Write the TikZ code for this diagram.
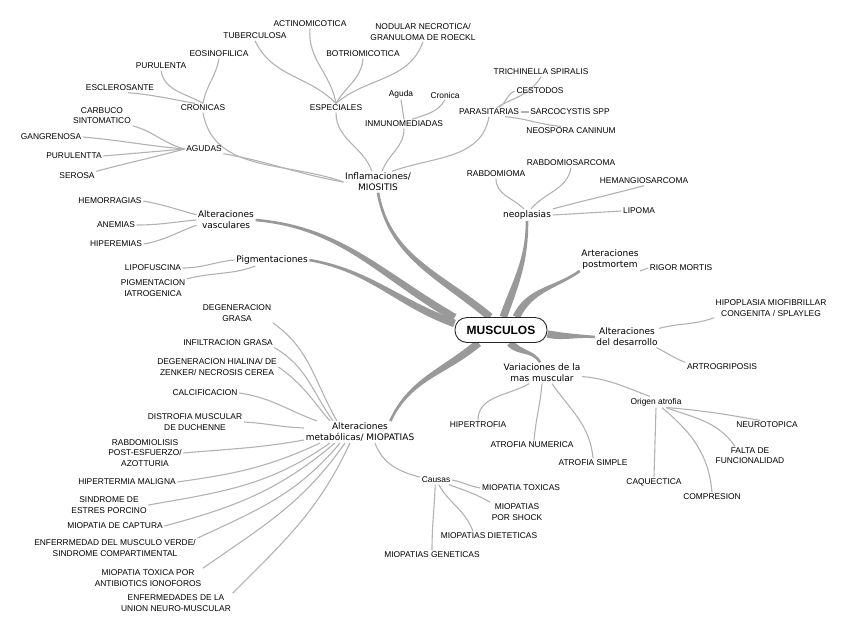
\documentclass[tikz,border=0pt]{standalone}
\usepackage{fontspec}
\setmainfont{Liberation Sans}
\newfontfamily\topicfamily{DejaVu Sans}
\newcommand\leaffont{\fontsize{8.4}{10.2}\selectfont}
\newcommand\topicfont{\topicfamily\fontsize{9}{11}\selectfont}
\usetikzlibrary{backgrounds}
% tapered branch: #1 start, #2 out angle, #3 end, #4 in angle
\newcommand\limb[4]{\fill[limbfill] ([shift={(#2+90:1.3)}]#1) to[out=#2,in=#4] ([shift={(#4-90:3.8)}]#3)
    -- ([shift={(#4+90:3.8)}]#3) to[out=#4,in=#2] ([shift={(#2-90:1.3)}]#1) -- cycle;}
\begin{document}
\begin{tikzpicture}[x=1pt,y=1pt,font=\leaffont,
    leaf/.style={align=center,inner sep=1.5pt},
    topic/.style={align=center,inner sep=1.5pt,font=\topicfont},
    root/.style={draw=black!85,line width=.9pt,rounded corners=12pt,fill=white,minimum width=92pt,minimum height=25pt,font=\bfseries\fontsize{12}{14}\selectfont},
    twig/.style={draw=black!30,line width=1.1pt},
    limbfill/.style={fill=black!40}]
    \useasboundingbox (0,0) rectangle (848,-633);
    \node[root] (root) at (501,-330) {MUSCULOS};
    \node[topic] (inf) at (378,-182) {Inflamaciones/\\MIOSITIS};
    \node[topic] (neo) at (527,-215) {neoplasias};
    \node[topic] (post) at (610,-260) {Arteraciones\\postmortem};
    \node[topic] (des) at (627,-337) {Alteraciones\\del desarrollo};
    \node[topic] (var) at (542,-373) {Variaciones de la\\mas muscular};
    \node[topic] (met) at (360,-432) {Alteraciones\\metabólicas/ MIOPATIAS};
    \node[topic] (pig) at (272,-260) {Pigmentaciones};
    \node[topic] (vas) at (226,-220) {Alteraciones\\vasculares};
    % inflamaciones
    \node[leaf] (cron) at (203,-108) {CRONICAS};
    \node[leaf] (pur) at (161,-66) {PURULENTA};
    \node[leaf] (eos) at (219,-54) {EOSINOFILICA};
    \node[leaf] (esc) at (120,-88) {ESCLEROSANTE};
    \node[leaf] (agu) at (204,-149) {AGUDAS};
    \node[leaf] (carb) at (102,-116) {CARBUCO\\SINTOMATICO};
    \node[leaf] (gan) at (51,-137) {GANGRENOSA};
    \node[leaf] (pur2) at (74,-156) {PURULENTTA};
    \node[leaf] (ser) at (77,-176) {SEROSA};
    \node[leaf] (esp) at (336,-108) {ESPECIALES};
    \node[leaf] (tub) at (255,-36) {TUBERCULOSA};
    \node[leaf] (act) at (310,-24) {ACTINOMICOTICA};
    \node[leaf] (bot) at (363,-54) {BOTRIOMICOTICA};
    \node[leaf] (nod) at (423,-32) {NODULAR NECROTICA/\\GRANULOMA DE ROECKL};
    \node[leaf] (inm) at (404,-124) {INMUNOMEDIADAS};
    \node[leaf] (agd) at (401,-94) {Aguda};
    \node[leaf] (crn) at (445,-95) {Cronica};
    \node[leaf] (par) at (489,-112) {PARASITARIAS};
    \node[leaf] (tri) at (541,-72) {TRICHINELLA SPIRALIS};
    \node[leaf] (ces) at (540,-91) {CESTODOS};
    \node[leaf] (sar) at (570,-112) {SARCOCYSTIS SPP};
    \node[leaf] (neos) at (571,-131) {NEOSPORA CANINUM};
    % neoplasias, postmortem, desarrollo
    \node[leaf] (rbm) at (496,-174) {RABDOMIOMA};
    \node[leaf] (rbs) at (571,-163) {RABDOMIOSARCOMA};
    \node[leaf] (hem) at (644,-181) {HEMANGIOSARCOMA};
    \node[leaf] (lip) at (639,-211) {LIPOMA};
    \node[leaf] (rig) at (681,-268) {RIGOR MORTIS};
    \node[leaf] (hip) at (771,-308) {HIPOPLASIA MIOFIBRILLAR\\CONGENITA / SPLAYLEG};
    \node[leaf] (art) at (722,-367) {ARTROGRIPOSIS};
    % variaciones
    \node[leaf] (hipt) at (478,-425) {HIPERTROFIA};
    \node[leaf] (atn) at (532,-445) {ATROFIA NUMERICA};
    \node[leaf] (ats) at (593,-463) {ATROFIA SIMPLE};
    \node[leaf] (ori) at (656,-402) {Origen atrofia};
    \node[leaf] (neu) at (767,-425) {NEUROTOPICA};
    \node[leaf] (fal) at (750,-456) {FALTA DE\\FUNCIONALIDAD};
    \node[leaf] (com) at (712,-497) {COMPRESION};
    \node[leaf] (caq) at (654,-482) {CAQUECTICA};
    % vasculares, pigmentaciones
    \node[leaf] (hmr) at (110,-201) {HEMORRAGIAS};
    \node[leaf] (ane) at (116,-225) {ANEMIAS};
    \node[leaf] (hpe) at (116,-244) {HIPEREMIAS};
    \node[leaf] (lipf) at (153,-268) {LIPOFUSCINA};
    \node[leaf] (pigi) at (153,-288) {PIGMENTACION\\IATROGENICA};
    % metabolicas
    \node[leaf] (dgr) at (237,-313) {DEGENERACION\\GRASA};
    \node[leaf] (ifg) at (228,-343) {INFILTRACION GRASA};
    \node[leaf] (hia) at (217,-367) {DEGENERACION HIALINA/ DE\\ZENKER/ NECROSIS CEREA};
    \node[leaf] (cal) at (205,-393) {CALCIFICACION};
    \node[leaf] (duc) at (195,-422) {DISTROFIA MUSCULAR\\DE DUCHENNE};
    \node[leaf] (rab) at (145,-453) {RABDOMIOLISIS\\POST-ESFUERZO/\\AZOTTURIA};
    \node[leaf] (hmg) at (127,-482) {HIPERTERMIA MALIGNA};
    \node[leaf] (sin) at (109,-505) {SINDROME DE\\ESTRES PORCINO};
    \node[leaf] (cap) at (115,-526) {MIOPATIA DE CAPTURA};
    \node[leaf] (ver) at (115,-548) {ENFERRMEDAD DEL MUSCULO VERDE/\\SINDROME COMPARTIMENTAL};
    \node[leaf] (tox) at (148,-578) {MIOPATIA TOXICA POR\\ANTIBIOTICS IONOFOROS};
    \node[leaf] (uni) at (176,-603) {ENFERMEDADES DE LA\\UNION NEURO-MUSCULAR};
    \node[leaf] (cau) at (436,-480) {Causas};
    \node[leaf] (mtx) at (521,-488) {MIOPATIA TOXICAS};
    \node[leaf] (shk) at (517,-512) {MIOPATIAS\\POR SHOCK};
    \node[leaf] (diet) at (489,-536) {MIOPATIAS DIETETICAS};
    \node[leaf] (gen) at (432,-555) {MIOPATIAS GENETICAS};
    \begin{pgfonlayer}{background}
        \limb{inf.south}{-80}{root.130}{140}
        \limb{neo.south}{-90}{root.80}{70}
        \limb{post.200}{-145}{root.40}{65}
        \limb{des.west}{175}{root.-5}{-10}
        \limb{var.100}{120}{root.-55}{-50}
        \limb{met.20}{65}{root.-150}{-140}
        \limb{pig.east}{-10}{root.172}{160}
        \limb{vas.east}{-5}{root.165}{150}
        \draw[twig] (cron.south) to[out=-80,in=160] (inf.west);
        \draw[twig] (agu.south east) to[out=-10,in=170] (inf.west);
        \draw[twig] (esp.south) to[out=-90,in=110] ([xshift=-6pt]inf.north);
        \draw[twig] (inm.south) to[out=-90,in=70] ([xshift=4pt]inf.north);
        \draw[twig] (par.south) to[out=-100,in=20] ([xshift=14pt]inf.north);
        \draw[twig] (pur.south) to[out=-80,in=150] (cron.north);
        \draw[twig] (eos.south) to[out=-100,in=80] (cron.north);
        \draw[twig] ([xshift=8pt]esc.south) to[out=-5,in=170] (cron.150);
        \draw[twig] (carb.south east) to[out=-15,in=165] (agu.west);
        \draw[twig] (gan.east) to[out=-5,in=175] (agu.west);
        \draw[twig] (pur2.east) to[out=5,in=-175] (agu.west);
        \draw[twig] (ser.north east) to[out=15,in=-165] (agu.west);
        \draw[twig] (tub.south) to[out=-65,in=135] (esp.north);
        \draw[twig] (act.south) to[out=-95,in=100] (esp.north);
        \draw[twig] (bot.south) to[out=-95,in=60] (esp.north);
        \draw[twig] (nod.south) to[out=-110,in=40] (esp.north);
        \draw[twig] (agd.south) -- (inm.north);
        \draw[twig] (crn.south) to[out=-120,in=20] ([xshift=8pt]inm.north);
        \draw[twig] (tri.south) to[out=-120,in=30] ([xshift=8pt]par.north);
        \draw[twig] (ces.west) to[out=-160,in=30] ([xshift=10pt]par.north);
        \draw[twig] (par.east) -- (sar.west);
        \draw[twig] ([xshift=16pt]par.south) to[out=-5,in=175] ([xshift=-10pt]neos.north);
        \draw[twig] (rbm.south) to[out=-90,in=135] ([xshift=-3pt]neo.north);
        \draw[twig] (rbs.south) to[out=-100,in=50] ([xshift=4pt]neo.north);
        \draw[twig] (hem.south) to[out=-165,in=15] (neo.north east);
        \draw[twig] (neo.east) -- (lip.west);
        \draw[twig] (post.-20) -- (rig.west);
        \draw[twig] (des.15) to[out=15,in=200] (hip.south west);
        \draw[twig] (des.-20) to[out=-25,in=160] (art.north west);
        \draw[twig] ([xshift=-13pt]var.south) to[out=-150,in=90] (hipt.north);
        \draw[twig] (var.south) to[out=-95,in=85] ([xshift=2pt]atn.north);
        \draw[twig] ([xshift=10pt]var.south) to[out=-55,in=95] (ats.north);
        \draw[twig] (var.-5) to[out=-5,in=160] ([xshift=-6pt]ori.north);
        \draw[twig] ([xshift=12pt]ori.south) to[out=-5,in=170] ([xshift=-7pt]neu.north);
        \draw[twig] ([xshift=10pt]ori.south) to[out=-20,in=125] ([xshift=-15pt]fal.north);
        \draw[twig] ([xshift=6pt]ori.south) to[out=-40,in=95] (com.north);
        \draw[twig] (ori.south) -- (caq.north);
        \draw[twig] (hmr.east) to[out=-10,in=165] (vas.170);
        \draw[twig] (ane.east) to[out=0,in=-175] (vas.west);
        \draw[twig] (hpe.east) to[out=10,in=-160] (vas.190);
        \draw[twig] (lipf.east) to[out=0,in=-175] (pig.west);
        \draw[twig] (pigi.15) to[out=15,in=-160] (pig.200);
        \draw[twig] (dgr.south east) to[out=-35,in=120] ([xshift=-23pt]met.north);
        \draw[twig] (ifg.south east) to[out=-30,in=125] ([xshift=-27pt]met.north);
        \draw[twig] (hia.east) to[out=-35,in=130] ([xshift=-30pt]met.north);
        \draw[twig] (cal.east) to[out=-8,in=160] ([xshift=-43pt]met.north);
        \draw[twig] (duc.east) to[out=-3,in=178] ([yshift=4pt]met.west);
        \draw[twig] (rab.east) to[out=5,in=-170] ([yshift=-8pt]met.west);
        \draw[twig] (hmg.east) to[out=8,in=-155] ([xshift=-40pt]met.south);
        \draw[twig] (sin.east) to[out=10,in=-145] ([xshift=-30pt]met.south);
        \draw[twig] (cap.east) to[out=15,in=-140] ([xshift=-25pt]met.south);
        \draw[twig] (ver.north east) to[out=25,in=-130] ([xshift=-20pt]met.south);
        \draw[twig] (tox.north east) to[out=35,in=-125] ([xshift=-15pt]met.south);
        \draw[twig] (uni.north east) to[out=45,in=-115] ([xshift=-10pt]met.south);
        \draw[twig] ([xshift=15pt]met.south) to[out=-70,in=165] (cau.170);
        \draw[twig] (cau.east) to[out=-10,in=170] (mtx.west);
        \draw[twig] (cau.-20) to[out=-20,in=150] (shk.160);
        \draw[twig] (cau.-60) to[out=-60,in=110] ([xshift=-16pt]diet.north);
        \draw[twig] (cau.-100) to[out=-92,in=90] (gen.north);
    \end{pgfonlayer}
\end{tikzpicture}
\end{document}
